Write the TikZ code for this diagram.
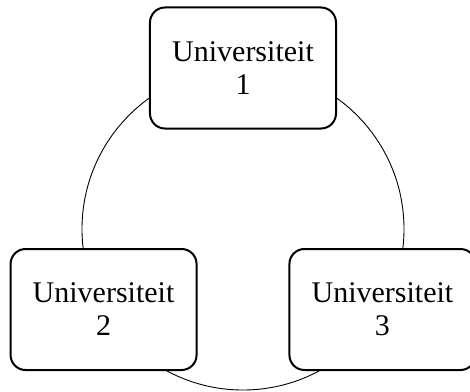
\documentclass[tikz,border=0pt]{standalone}
\usepackage{fontspec}
\setmainfont{Liberation Serif}
\usepackage{tikz}

\begin{document}
\begin{tikzpicture}[x=1pt,y=1pt,
	uni/.style={draw,fill=white,line width=2pt,rounded corners=15pt,minimum width=186pt,minimum height=121pt,align=center,font=\fontsize{30}{33}\selectfont}]
			\useasboundingbox (-243,-162) rectangle (227,229);
			\clip (-243,-162) rectangle (227,229);
			\draw[line width=0.9pt] (0,0) circle (161);
			\node[uni] (u1) at (90:161) {Universiteit\\1};
			\node[uni] (u2) at (210:161) {Universiteit\\2};
			\node[uni] (u3) at (330:161) {Universiteit\\3};
\end{tikzpicture}
\end{document}
